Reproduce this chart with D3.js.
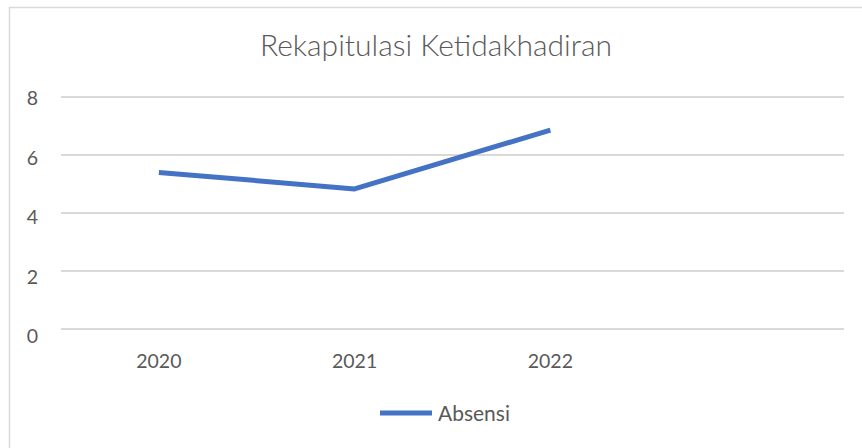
<!DOCTYPE html>
<html>
<head>
<meta charset="utf-8">
<script src="https://cdn.jsdelivr.net/npm/d3@7"></script>
<style>
  html, body { margin: 0; padding: 0; background: #fff; }
  svg { display: block; font-family: Lato, "Open Sans", sans-serif; }
</style>
</head>
<body>
<div id="chart"></div>
<script>
const chartTitle = 'Rekapitulasi Ketidakhadiran';
const seriesName = 'Absensi';
const categories = ['2020', '2021', '2022', ''];
const absensi = [5.4, 4.83, 6.86];
const yTicks = [0, 2, 4, 6, 8];

const width = 862, height = 448;
const textColor = '#595959';
const gridColor = '#d9d9d9';
const lineColor = '#4472c4';

const svg = d3.select('#chart').append('svg')
  .attr('width', width)
  .attr('height', height);

// chart border (right/bottom edges fall outside the frame)
svg.append('rect')
  .attr('x', 9.5)
  .attr('y', 7.5)
  .attr('width', width)
  .attr('height', height)
  .style('fill', '#fff')
  .style('stroke', gridColor)
  .style('stroke-width', 1.5);

const xScale = d3.scaleBand()
  .domain(categories.map((c, i) => i))
  .range([61, 844]);

const yScale = d3.scaleLinear()
  .domain([0, 8])
  .range([329, 97]);

// label positions drift slightly from gridlines in the original
const yLabel = d3.scaleLinear()
  .domain([0, 8])
  .range([336.5, 98.5]);

svg.append('text')
  .attr('x', 436)
  .attr('y', 56)
  .attr('text-anchor', 'middle')
  .style('font-size', '30px')
  .style('font-weight', 300)
  .style('fill', textColor)
  .text(chartTitle);

// gridlines
svg.append('g')
  .selectAll('line')
  .data(yTicks)
  .join('line')
  .attr('x1', 61)
  .attr('x2', 844)
  .attr('y1', d => yScale(d))
  .attr('y2', d => yScale(d))
  .style('stroke', gridColor)
  .style('stroke-width', 2);

// y labels
svg.append('g')
  .selectAll('text')
  .data(yTicks)
  .join('text')
  .attr('x', 38)
  .attr('y', d => yLabel(d))
  .attr('dy', '0.35em')
  .attr('text-anchor', 'end')
  .style('font-size', '19.5px')
  .style('fill', textColor)
  .text(d => d);

// x labels
svg.append('g')
  .selectAll('text')
  .data(categories)
  .join('text')
  .attr('x', (d, i) => xScale(i) + xScale.bandwidth() / 2)
  .attr('y', 361.5)
  .attr('dy', '0.35em')
  .attr('text-anchor', 'middle')
  .style('font-size', '19.5px')
  .style('fill', textColor)
  .text(d => d);

const line = d3.line()
  .x((d, i) => xScale(i) + xScale.bandwidth() / 2)
  .y(d => yScale(d));

svg.append('path')
  .datum(absensi)
  .attr('d', line)
  .style('fill', 'none')
  .style('stroke', lineColor)
  .style('stroke-width', 5)
  .style('stroke-linejoin', 'round');

// legend
const legend = svg.append('g');
legend.append('line')
  .attr('x1', 380)
  .attr('x2', 432)
  .attr('y1', 413)
  .attr('y2', 413)
  .style('stroke', lineColor)
  .style('stroke-width', 5);
legend.append('text')
  .attr('x', 438)
  .attr('y', 421)
  .style('font-size', '21px')
  .style('fill', textColor)
  .text(seriesName);
</script>
</body>
</html>
